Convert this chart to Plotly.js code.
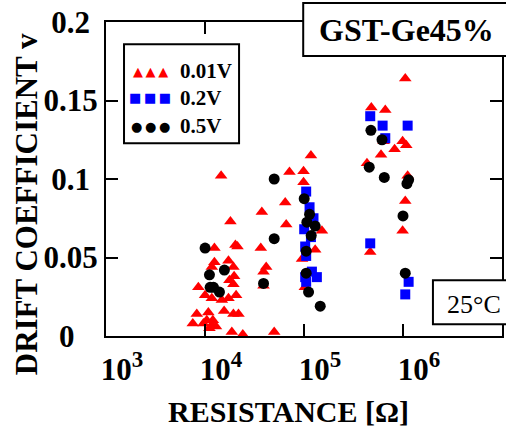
<!DOCTYPE html>
<html><head><meta charset="utf-8">
<script src="https://cdn.plot.ly/plotly-3.0.1.min.js"></script>
<style>html,body{margin:0;padding:0;background:#fff;}#chart{width:506px;height:430px;}</style>
</head><body><div id="chart"></div>
<script>
// 0.01V series (red triangles)
const res001 = [14550,18070,20280,21280,12450,12450,17260,19360,11720,19680,17660,8570,19360,10020,20610,17260,11720,14790,15600,8260,10810,19360,21780,7530,9640,10420,11720,12000,11090,18660,24100,12900,
  117500,71300,98900,98900,64600,37500,66100,151700,36600,129700,95500,41500,39000,39000,102000,50000,
  1054000,478600,662200,636800,990800,1079000,822200,599800,432500,1114000,1054000,990800,466700];
const v001 = [0.102,0.073,0.058,0.057,0.056,0.047,0.048,0.044,0.044,0.038,0.0355,0.031,0.033,0.026,0.026,0.024,0.024,0.023,0.016,0.014,0.015,0.014,0.014,0.008,0.008,0.010,0.007,0.010,0.005,0.0025,0.001,0.006,
  0.115,0.1045,0.105,0.098,0.085,0.079,0.071,0.067,0.056,0.055,0.049,0.044,0.041,0.032,0.031,0.0025,
  0.164,0.1455,0.144,0.124,0.124,0.1215,0.119,0.1155,0.110,0.102,0.086,0.067,0.0535];
// 0.2V series (blue squares)
const res02 = [105200,113800,124700,100500,117500,102800,105200,120200,134900,102800,105200,
  466700,622300,1114000,662200,466700,1140000,1054000];
const v02 = [0.092,0.082,0.075,0.068,0.063,0.057,0.051,0.041,0.0375,0.0375,0.0345,
  0.140,0.134,0.134,0.126,0.059,0.0345,0.0265];
// 0.5V series (black circles)
const res05 = [10020,15700,11090,11270,12190,14000,
  50000,100500,113800,106900,129700,118300,50000,105200,105200,39000,111200,145900,
  474200,613800,456000,647100,1140000,1096000,1000000,1054000];
const v05 = [0.056,0.042,0.039,0.031,0.031,0.028,
  0.100,0.0875,0.0775,0.0725,0.070,0.064,0.062,0.054,0.040,0.0335,0.028,0.019,
  0.131,0.125,0.1075,0.101,0.0995,0.097,0.0765,0.040];

const seriesNames = ['0.01V','0.2V','0.5V'];
const xTickVals = [1e3,1e4,1e5,1e6];
const xTickExp = ['3','4','5','6'];
const xTickText = xTickExp.map(e => '10<sup><span style="font-size:23px">' + e + '</span></sup>');
const yTickVals = [0,0.05,0.1,0.15,0.2];
const yTickText = ['0\u00a0\u00a0\u00a0','0.05','0.1\u00a0','0.15','0.2\u00a0'];
const xTitle = 'RESISTANCE [Ω]';
const yTitle = 'DRIFT COEFFICIENT v';
const sampleLabel = 'GST-Ge45%';
const tempLabel = '25°C';

const serif = 'Liberation Serif, Times New Roman, serif';

const traces = [
  {x: res001, y: v001, mode:'markers', type:'scatter', name: seriesNames[0], cliponaxis:false,
   marker:{symbol:'triangle-up', size:11, color:'#ff0000'}},
  {x: res02, y: v02, mode:'markers', type:'scatter', name: seriesNames[1], cliponaxis:false,
   marker:{symbol:'square', size:10, color:'#0000ff'}},
  {x: res05, y: v05, mode:'markers', type:'scatter', name: seriesNames[2], cliponaxis:false,
   marker:{symbol:'circle', size:11, color:'#000000'}}
];

const axisCommon = {
  showline:true, linecolor:'#000', linewidth:2, mirror:'ticks',
  ticks:'inside', ticklen:12, tickwidth:2, tickcolor:'#000',
  showgrid:false, zeroline:false, automargin:false,
  tickfont:{family:serif, size:31, color:'#000', weight:'bold'}
};

const glyphFont = {family:'DejaVu Sans', size:13};
const labelFont = {family:serif, size:21, color:'#000', weight:'bold'};

const layout = {
  width:506, height:430,
  margin:{l:106, r:4, t:22, b:94, pad:0},
  paper_bgcolor:'#fff', plot_bgcolor:'#fff',
  showlegend:false,
  xaxis: Object.assign({}, axisCommon, {type:'log', range:[3,7], tickvals:xTickVals, ticktext:xTickText,
    ticklabelshift:16, ticklabelstandoff:5}),
  yaxis: Object.assign({}, axisCommon, {range:[0,0.2], tickvals:yTickVals, ticktext:yTickText}),
  shapes:[
    {type:'rect', xref:'paper', yref:'paper', x0:0.0455, x1:0.336, y0:0.6137, y1:0.929,
     line:{color:'#000', width:2}, fillcolor:'#fff', layer:'above'},
    {type:'rect', xref:'paper', yref:'paper', x0:0.498, x1:1.03, y0:0.8917, y1:1.0605,
     line:{color:'#000', width:2}, fillcolor:'#fff', layer:'above'},
    {type:'rect', xref:'paper', yref:'paper', x0:0.8256, x1:1.03, y0:0.0373, y1:0.1774,
     line:{color:'#000', width:2}, fillcolor:'#fff', layer:'above'}
  ],
  annotations:[
    {xref:'paper', yref:'paper', x:0.4612, y:-0.2398, xanchor:'center', yanchor:'middle', showarrow:false,
     text:xTitle, font:{family:serif, size:30, color:'#000', weight:'bold'}},
    {xref:'paper', yref:'paper', x:-0.2022, y:0.4194, xanchor:'center', yanchor:'middle', showarrow:false,
     textangle:-90, text:yTitle, font:{family:serif, size:31, color:'#000', weight:'bold'}},
    {xref:'paper', yref:'paper', x:0.7594, y:0.9736, xanchor:'center', yanchor:'middle', showarrow:false,
     text:sampleLabel, font:{family:serif, size:32, color:'#000', weight:'bold'}},
    {xref:'paper', yref:'paper', x:0.9283, y:0.101, xanchor:'center', yanchor:'middle', showarrow:false,
     text:tempLabel, font:{family:serif, size:26, color:'#000'}},
    {xref:'paper', yref:'paper', x:0.1112, y:0.8436, xanchor:'center', yanchor:'middle', showarrow:false,
     text:'▲\u2009▲\u2009▲', font:Object.assign({}, glyphFont, {color:'#ff0000'})},
    {xref:'paper', yref:'paper', x:0.1112, y:0.7586, xanchor:'center', yanchor:'middle', showarrow:false,
     text:'■\u2009■\u2009■', font:Object.assign({}, glyphFont, {color:'#0000ff'})},
    {xref:'paper', yref:'paper', x:0.1112, y:0.6685, xanchor:'center', yanchor:'middle', showarrow:false,
     text:'●\u2009●\u2009●', font:Object.assign({}, glyphFont, {color:'#000000'})},
    {xref:'paper', yref:'paper', x:0.1827, y:0.8436, xanchor:'left', yanchor:'middle', showarrow:false,
     text:seriesNames[0], font:labelFont},
    {xref:'paper', yref:'paper', x:0.1827, y:0.7586, xanchor:'left', yanchor:'middle', showarrow:false,
     text:seriesNames[1], font:labelFont},
    {xref:'paper', yref:'paper', x:0.1827, y:0.6685, xanchor:'left', yanchor:'middle', showarrow:false,
     text:seriesNames[2], font:labelFont}
  ]
};

Plotly.newPlot('chart', traces, layout, {staticPlot:true, displayModeBar:false});
</script>
</body></html>
